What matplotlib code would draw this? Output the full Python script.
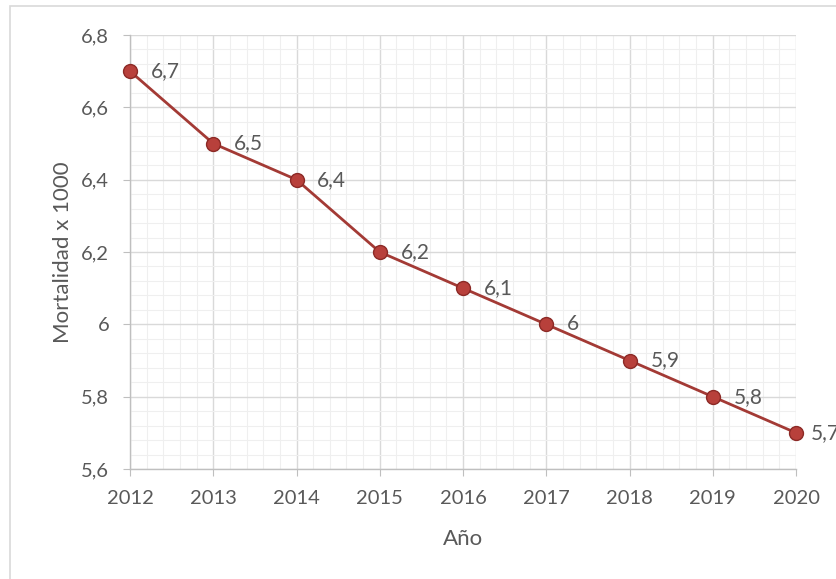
import matplotlib.pyplot as plt
from matplotlib.ticker import MultipleLocator, FuncFormatter
from matplotlib.patches import Rectangle

# Tasa de mortalidad por año
anios = [2012, 2013, 2014, 2015, 2016, 2017, 2018, 2019, 2020]
mortalidad = [6.7, 6.5, 6.4, 6.2, 6.1, 6.0, 5.9, 5.8, 5.7]

plt.rcParams['font.family'] = ['Lato', 'DejaVu Sans']

gris_texto = '#595959'
gris_eje = '#bfbfbf'
rojo = '#a33a35'

fig = plt.figure(figsize=(8.36, 5.79), dpi=100)
ax = fig.add_axes([130 / 836, 1 - 469 / 579, (796 - 130) / 836, (469 - 35) / 579])

# borde del área del gráfico
fig.patches.append(Rectangle((10 / 836, -0.01), 1.0, 1 - 6 / 579 + 0.01,
                             transform=fig.transFigure, fill=False,
                             edgecolor='#d9d9d9', linewidth=1.2))

def coma(v, pos):
    s = f'{v:.1f}'.rstrip('0').rstrip('.')
    return s.replace('.', ',')

ax.plot(anios, mortalidad, color=rojo, linewidth=2, marker='o', markersize=10,
        markerfacecolor='#b8403b', markeredgecolor='#8c2a26', markeredgewidth=1,
        zorder=3, clip_on=False)

for i, (x, y) in enumerate(zip(anios, mortalidad)):
    dx = 11 if i == len(anios) - 1 else 15
    ax.annotate(coma(y, None), xy=(x, y), xytext=(dx, 0), textcoords='offset points',
                ha='left', va='center', fontsize=15, color=gris_texto,
                annotation_clip=False)

ax.set_xlim(2012, 2020)
ax.set_ylim(5.6, 6.8)
ax.xaxis.set_major_locator(MultipleLocator(1))
ax.xaxis.set_minor_locator(MultipleLocator(0.2))
ax.yaxis.set_major_locator(MultipleLocator(0.2))
ax.yaxis.set_minor_locator(MultipleLocator(0.04))
ax.yaxis.set_major_formatter(FuncFormatter(coma))
ax.xaxis.set_major_formatter(FuncFormatter(lambda v, p: f'{int(round(v))}'))

ax.grid(which='major', color='#d9d9d9', linewidth=1.0)
ax.grid(which='minor', color='#efefef', linewidth=0.8)
ax.set_axisbelow(True)

for lado in ['top', 'right']:
    ax.spines[lado].set_visible(False)
for lado in ['left', 'bottom']:
    ax.spines[lado].set_color(gris_eje)
    ax.spines[lado].set_linewidth(1.0)

ax.tick_params(which='major', length=5, color=gris_eje, labelcolor=gris_texto,
               labelsize=14.5)
ax.tick_params(which='minor', length=0)
ax.tick_params(axis='x', pad=10)
ax.tick_params(axis='y', pad=10)

ax.set_xlabel('Año', fontsize=16, color=gris_texto, labelpad=16)
ax.set_ylabel('Mortalidad x 1000', fontsize=16, color=gris_texto, labelpad=6)

fig.savefig('out.png', dpi=100)
